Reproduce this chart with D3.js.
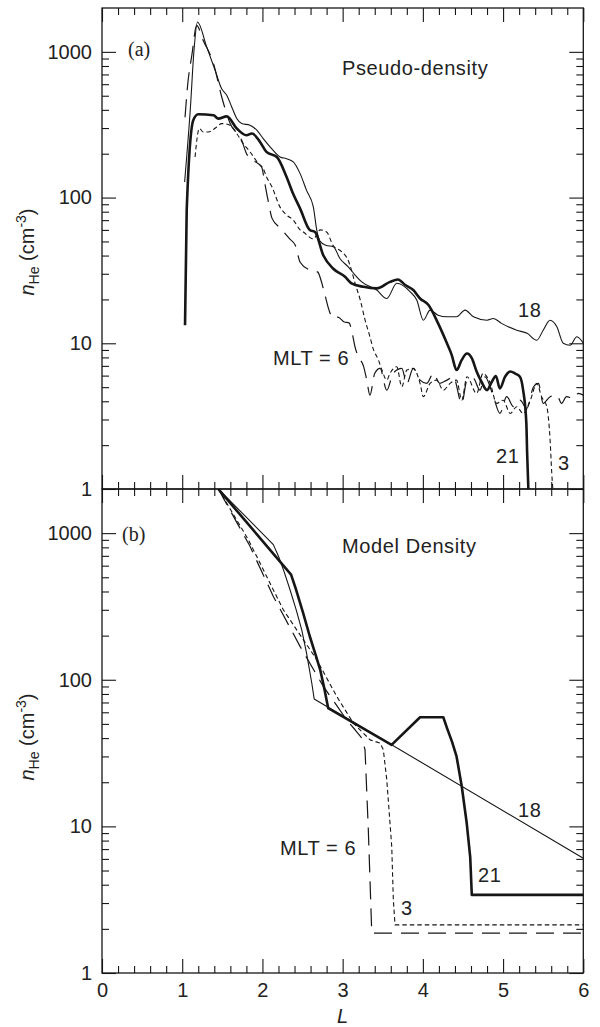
<!DOCTYPE html>
<html>
<head>
<meta charset="utf-8">
<script src="https://cdn.jsdelivr.net/npm/d3@7"></script>
<style>
  body { margin: 0; background: #fff; }
  svg { display: block; }
</style>
</head>
<body>
<svg id="chart" width="600" height="1027"></svg>
<script>
// Axis ticks
const xTickValues = [0, 1, 2, 3, 4, 5, 6];
const yTickValues = [1, 10, 100, 1000];

// (a) Pseudo-density profiles, [L, nHe in cm^-3], by MLT
const pseudo18 = [[1.03,128],[1.10,397],[1.147,1025],[1.19,1603],[1.305,1081],[1.41,748],[1.49,560],[1.555,504],[1.617,419],[1.68,349],[1.742,322],[1.845,314],[1.93,290],[2.01,254],[2.095,223],[2.22,190],[2.30,185],[2.385,176],[2.47,146],[2.55,112],[2.635,86],[2.677,60],[2.72,50],[2.79,47],[2.884,46],[2.968,38],[3.07,33.5],[3.155,29.4],[3.238,26.4],[3.425,23.2],[3.55,20.3],[3.675,25.8],[3.84,22.6],[3.924,19.8],[4.006,14.4],[4.09,16.9],[4.19,15.6],[4.30,15.2],[4.42,15.2],[4.526,16.9],[4.63,15.2],[4.80,14.4],[4.88,14.8],[4.98,13.7],[5.17,12.3],[5.30,11.7],[5.42,10.5],[5.50,12.3],[5.586,14.4],[5.67,13],[5.75,10],[5.835,9.7],[5.92,11.1],[6.0,10]];
const pseudo21 = [[1.035,13.3],[1.056,82],[1.138,340],[1.20,373],[1.39,367],[1.45,348],[1.555,361],[1.68,298],[1.80,268],[1.87,275],[1.97,241],[2.05,206],[2.18,190],[2.30,139],[2.38,107],[2.47,84],[2.59,60],[2.656,58],[2.76,40],[2.88,32.6],[3.03,28.6],[3.11,25.8],[3.26,24.4],[3.425,23.8],[3.59,26.4],[3.69,27.4],[3.78,25.1],[3.88,23.2],[3.965,20.3],[4.07,18.3],[4.19,13.7],[4.30,10],[4.36,8.3],[4.42,6.55],[4.485,7.7],[4.55,8.5],[4.61,7.9],[4.67,6.4],[4.73,5.45],[4.80,4.77],[4.86,5.45],[4.91,5.96],[4.96,4.9],[5.025,5.9],[5.09,6.4],[5.15,6.2],[5.21,5.9],[5.25,4.77],[5.29,2.82],[5.30,1.76],[5.315,1]];
const pseudo3 = [[1.16,190],[1.213,298],[1.263,282],[1.325,282],[1.43,305],[1.49,322],[1.596,314],[1.68,275],[1.76,235],[1.845,206],[1.95,171],[2.01,158],[2.05,139],[2.12,118],[2.22,86],[2.30,76],[2.385,70],[2.47,60],[2.51,58],[2.635,52],[2.72,60],[2.80,58],[2.88,47],[2.99,42.4],[3.07,37],[3.11,31.8],[3.155,25.8],[3.22,19.8],[3.28,14.4],[3.34,11.1],[3.38,9.2],[3.445,7.7],[3.49,6.55],[3.55,5.59],[3.59,6.22],[3.675,6.9],[3.737,5.03],[3.80,6.55],[3.88,6.73],[3.965,5.31],[4.006,4.30],[4.09,5.31],[4.17,5.59],[4.255,4.77],[4.34,5.31],[4.42,5.59],[4.485,4.07],[4.55,5.89],[4.67,4.53],[4.75,6.22],[4.84,5.31],[4.92,3.87],[5.00,4.07],[5.09,3.30],[5.17,3.67],[5.25,3.30],[5.34,4.07],[5.42,5.31],[5.48,4.30],[5.545,3.67],[5.586,2.17],[5.607,1.28],[5.62,1]];
const pseudo6 = [[1.035,356],[1.07,609],[1.12,948],[1.18,1521],[1.26,1202],[1.39,832],[1.49,496],[1.596,324],[1.74,248],[1.80,201],[1.88,181],[1.99,162],[2.03,125],[2.07,96],[2.12,72],[2.22,62],[2.34,52],[2.41,47],[2.47,36],[2.59,31.8],[2.69,30.8],[2.73,27.1],[2.78,21.4],[2.83,16.9],[2.88,14.9],[2.94,15.1],[3.02,14],[3.08,13.8],[3.12,11.7],[3.155,9.4],[3.20,8.0],[3.26,6.97],[3.30,5.6],[3.34,4.41],[3.40,6.22],[3.466,6.73],[3.55,4.77],[3.63,6.22],[3.737,6.73],[3.80,5.31],[3.88,6.73],[3.965,5.59],[4.05,5.31],[4.13,6.22],[4.21,5.31],[4.30,5.59],[4.38,5.89],[4.485,3.87],[4.55,5.59],[4.63,5.74],[4.71,4.77],[4.775,5.89],[4.88,4.30],[4.96,3.30],[5.046,4.30],[5.13,3.67],[5.21,4.07],[5.295,3.58],[5.38,5.03],[5.44,5.31],[5.50,3.87],[5.586,4.30],[5.67,4.41],[5.73,3.87],[5.79,4.30],[5.877,4.19],[5.94,4.53],[6.0,4.41]];

// (b) Model density profiles, [L, nHe in cm^-3], by MLT
const model18 = [[1.45,2000],[1.78,1316],[2.136,835],[2.20,695],[2.27,546],[2.344,411],[2.42,301],[2.49,219],[2.55,152],[2.615,95],[2.645,74],[6.0,6.07]];
const model21 = [[1.45,2000],[2.357,521],[2.42,411],[2.506,287],[2.59,198],[2.67,144],[2.72,117],[2.77,88],[2.82,64],[3.61,36],[3.965,55.5],[4.255,55.5],[4.30,47],[4.364,37.7],[4.42,30],[4.485,18.7],[4.547,10.5],[4.59,6.2],[4.61,3.41],[6.0,3.41]];
const model3 = [[1.45,2000],[1.824,903],[2.26,300],[2.677,137],[2.926,77],[3.133,50.6],[3.342,38.9],[3.466,37],[3.507,33.3],[3.55,20.8],[3.612,7.28],[3.632,3.15],[3.653,2.13],[6.0,2.13]];
const model6 = [[1.45,2000],[1.845,813],[2.136,370],[2.469,169],[2.76,90],[3.05,53.3],[3.155,45.6],[3.238,40],[3.279,33.3],[3.32,9.5],[3.363,1.87],[6.0,1.87]];

const FONT = "'Liberation Sans', Arial, Helvetica, sans-serif";
const INK = "#161616";

const svg = d3.select("#chart");
const x = d3.scaleLinear().domain([0, 6]).range([102, 583.3]);

// line styles per MLT
const styles = {
  "18": { width: 1.1, dash: null },
  "3":  { width: 1.1, dash: "4.5,3" },
  "6":  { width: 1.2, dash: "18,9" },
  "21": { width: 2.6, dash: null }
};

const panels = [
  {
    id: "a", top: 8, bottom: 489, tag: "(a)", tagX: 128, tagY: 56,
    title: "Pseudo-density", titleY: 75, curve: d3.curveMonotoneX,
    series: [["18", pseudo18], ["3", pseudo3], ["6", pseudo6], ["21", pseudo21]],
    labels: [["18", 518, 317], ["MLT = 6", 273, 365], ["21", 496, 463], ["3", 558, 470]],
    xLabels: false, yTitleY: 252
  },
  {
    id: "b", top: 489, bottom: 973, tag: "(b)", tagX: 122, tagY: 541,
    title: "Model Density", titleY: 553, curve: d3.curveLinear,
    series: [["18", model18], ["3", model3], ["6", model6], ["21", model21]],
    labels: [["18", 518, 817], ["MLT = 6", 280, 855], ["21", 478, 882], ["3", 401, 915]],
    xLabels: true, yTitleY: 737
  }
];

const yMinor = [];
[1, 10, 100, 1000].forEach(d => { for (let m = 2; m <= 9; m++) if (m * d < 2000) yMinor.push(m * d); });
const xMinor = d3.range(0, 6.001, 0.2).filter(v => Math.abs(v - Math.round(v)) > 1e-6);

function styleAxis(g) {
  g.select(".domain").remove();
  g.attr("color", INK).attr("font-family", FONT).attr("font-size", 20);
  g.selectAll(".tick line").attr("stroke-width", 1.1);
  g.selectAll(".tick text").attr("fill", "#222");
}

panels.forEach(p => {
  const y = d3.scaleLog().domain([1, 2000]).range([p.bottom, p.top]);
  const g = svg.append("g").attr("class", "panel-" + p.id);
  const L = x.range()[0], R = x.range()[1];

  g.append("clipPath").attr("id", "clip-" + p.id)
    .append("rect").attr("x", L).attr("y", p.top).attr("width", R - L).attr("height", p.bottom - p.top);

  // left axis
  g.append("g").attr("transform", `translate(${L},0)`)
    .call(d3.axisLeft(y).tickValues(yTickValues).tickSize(-14).tickSizeOuter(0).tickPadding(10).tickFormat(d3.format("d")))
    .call(styleAxis);
  g.append("g").attr("transform", `translate(${L},0)`)
    .call(d3.axisLeft(y).tickValues(yMinor).tickSize(-7).tickSizeOuter(0).tickFormat(""))
    .call(styleAxis);
  // right axis
  g.append("g").attr("transform", `translate(${R},0)`)
    .call(d3.axisRight(y).tickValues(yTickValues).tickSize(-14).tickSizeOuter(0).tickFormat(""))
    .call(styleAxis);
  g.append("g").attr("transform", `translate(${R},0)`)
    .call(d3.axisRight(y).tickValues(yMinor).tickSize(-7).tickSizeOuter(0).tickFormat(""))
    .call(styleAxis);
  // top axis
  g.append("g").attr("transform", `translate(0,${p.top})`)
    .call(d3.axisTop(x).tickValues(xTickValues).tickSize(-14).tickSizeOuter(0).tickFormat(""))
    .call(styleAxis);
  g.append("g").attr("transform", `translate(0,${p.top})`)
    .call(d3.axisTop(x).tickValues(xMinor).tickSize(-7).tickSizeOuter(0).tickFormat(""))
    .call(styleAxis);
  // bottom axis
  g.append("g").attr("transform", `translate(0,${p.bottom})`)
    .call(d3.axisBottom(x).tickValues(xTickValues).tickSize(-14).tickSizeOuter(0).tickPadding(10)
      .tickFormat(p.xLabels ? d3.format("d") : ""))
    .call(styleAxis);
  g.append("g").attr("transform", `translate(0,${p.bottom})`)
    .call(d3.axisBottom(x).tickValues(xMinor).tickSize(-7).tickSizeOuter(0).tickFormat(""))
    .call(styleAxis);

  // frame
  g.append("rect").attr("x", L).attr("y", p.top).attr("width", R - L).attr("height", p.bottom - p.top)
    .attr("fill", "none").attr("stroke", INK).attr("stroke-width", 1.3);

  // profiles
  const line = d3.line().x(d => x(d[0])).y(d => y(d[1])).curve(p.curve);
  const lines = g.append("g").attr("clip-path", `url(#clip-${p.id})`);
  p.series.forEach(([mlt, data]) => {
    const s = styles[mlt];
    lines.append("path").datum(data)
      .attr("d", line)
      .attr("fill", "none")
      .attr("stroke", INK)
      .attr("stroke-width", s.width)
      .attr("stroke-linejoin", "round")
      .attr("stroke-dasharray", s.dash);
  });

  // panel tag and title
  g.append("text").attr("x", p.tagX).attr("y", p.tagY)
    .attr("font-family", "'Liberation Serif', 'Times New Roman', serif").attr("font-size", 20)
    .attr("fill", "#222").text(p.tag);
  g.append("text").attr("x", 342).attr("y", p.titleY)
    .attr("font-family", FONT).attr("font-size", 20).attr("letter-spacing", 0.6)
    .attr("fill", "#222").text(p.title);

  // MLT labels
  p.labels.forEach(([t, lx, ly]) => {
    g.append("text").attr("x", lx).attr("y", ly)
      .attr("font-family", FONT).attr("font-size", 20).attr("letter-spacing", 0.6)
      .attr("fill", "#222").text(t);
  });

  // y axis title
  const yl = g.append("text")
    .attr("transform", `translate(34,${p.yTitleY}) rotate(-90)`)
    .attr("text-anchor", "middle")
    .attr("font-family", FONT).attr("font-size", 20).attr("fill", "#222");
  yl.append("tspan").attr("font-style", "italic").text("n");
  yl.append("tspan").attr("font-size", 14).attr("dy", 5).text("He");
  yl.append("tspan").attr("dy", -5).text(" (cm");
  yl.append("tspan").attr("font-size", 14).attr("dy", -8).text("-3");
  yl.append("tspan").attr("dy", 8).text(")");
});

// x axis title
svg.append("text").attr("x", x(3)).attr("y", 1023)
  .attr("text-anchor", "middle").attr("font-family", FONT).attr("font-size", 20)
  .attr("font-style", "italic").attr("fill", "#222").text("L");
</script>
</body>
</html>
